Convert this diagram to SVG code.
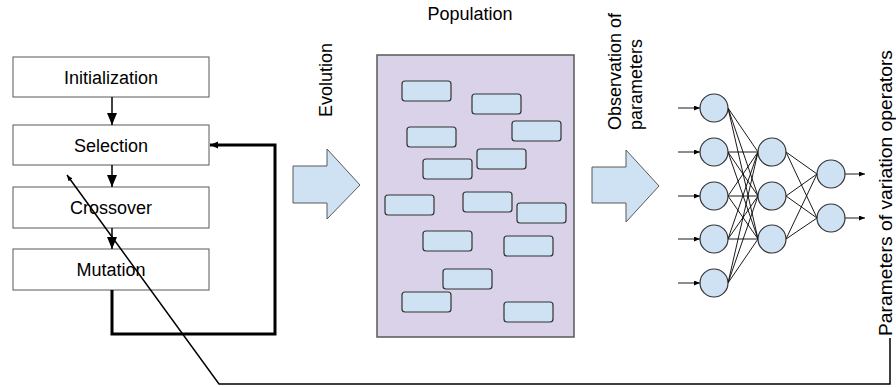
<svg xmlns="http://www.w3.org/2000/svg" width="896" height="387" viewBox="0 0 896 387">
<style>
.box{fill:#fff;stroke:#595959;stroke-width:1}
.lbl{font-family:"Liberation Sans",Arial,sans-serif;font-size:18px;fill:#000}
.ind{fill:#cfe2f3;stroke:#333;stroke-width:1.2}
.neu{fill:#cfe2f3;stroke:#333;stroke-width:1.2}
.blk{fill:#cfe2f3;stroke:#595959;stroke-width:1}
.ln{stroke:#000;stroke-width:1.5;fill:none}
.nn{stroke:#000;stroke-width:0.9;fill:none}
</style>
<defs>
<marker id="ah" markerWidth="13" markerHeight="11" refX="12" refY="5" orient="auto" markerUnits="userSpaceOnUse"><path d="M0,0 L12,5 L0,10 z" fill="#000"/></marker>
<marker id="as" markerWidth="9" markerHeight="8" refX="8" refY="3.5" orient="auto" markerUnits="userSpaceOnUse"><path d="M0,0 L8,3.5 L0,7 z" fill="#000"/></marker>
<marker id="an" markerWidth="7" markerHeight="6" refX="6" refY="2.5" orient="auto" markerUnits="userSpaceOnUse"><path d="M0,0 L6,2.5 L0,5 z" fill="#000"/></marker>
</defs>

<g id="initialization"><rect class="box" x="13" y="57" width="196" height="40"/><text class="lbl" x="111" y="83.5" text-anchor="middle">Initialization</text></g>
<g id="selection"><rect class="box" x="13" y="125" width="196" height="40"/><text class="lbl" x="111" y="151.5" text-anchor="middle">Selection</text></g>
<g id="crossover"><rect class="box" x="13" y="187" width="196" height="41"/><text class="lbl" x="111" y="213.5" text-anchor="middle">Crossover</text></g>
<g id="mutation"><rect class="box" x="13" y="249" width="196" height="41"/><text class="lbl" x="111" y="275.5" text-anchor="middle">Mutation</text></g>

<g id="evolution-arrow"><path class="blk" d="M293,166 L327,166 L327,149 L360,185 L327,219 L327,203 L293,203 z"/><text class="lbl" transform="translate(332,117) rotate(-90)">Evolution</text></g>

<g id="population">
<text class="lbl" x="470" y="20" text-anchor="middle">Population</text>
<rect x="377" y="55" width="197" height="282" fill="#d9d2e9" stroke="#595959" stroke-width="1.5"/>
<rect class="ind" x="402" y="81" width="49" height="20" rx="3"/>
<rect class="ind" x="472" y="94" width="49" height="20" rx="3"/>
<rect class="ind" x="407" y="127" width="49" height="20" rx="3"/>
<rect class="ind" x="512" y="121" width="49" height="20" rx="3"/>
<rect class="ind" x="477" y="149" width="49" height="20" rx="3"/>
<rect class="ind" x="423" y="159" width="49" height="20" rx="3"/>
<rect class="ind" x="385" y="195" width="49" height="20" rx="3"/>
<rect class="ind" x="463" y="192" width="49" height="20" rx="3"/>
<rect class="ind" x="517" y="203" width="49" height="20" rx="3"/>
<rect class="ind" x="423" y="231" width="49" height="20" rx="3"/>
<rect class="ind" x="504" y="236" width="49" height="20" rx="3"/>
<rect class="ind" x="443" y="269" width="49" height="20" rx="3"/>
<rect class="ind" x="402" y="292" width="49" height="20" rx="3"/>
<rect class="ind" x="504" y="302" width="49" height="20" rx="3"/>
</g>

<g id="observation-arrow"><path class="blk" d="M592,167 L626,167 L626,150 L659,186 L626,222 L626,203 L592,203 z"/>
<text class="lbl" transform="translate(621,130) rotate(-90)">Observation of</text>
<text class="lbl" transform="translate(642,130) rotate(-90)">parameters</text></g>

<g id="network">
<g class="nn">
<path d="M728,108 L758,152 M728,108 L758,196 M728,108 L758,239
M728,152 L758,152 M728,152 L758,196 M728,152 L758,239
M728,196 L758,152 M728,196 L758,196 M728,196 L758,239
M728,239 L758,152 M728,239 L758,196 M728,239 L758,239
M728,283 L758,152 M728,283 L758,196 M728,283 L758,239
M786,152 L817,174 M786,152 L817,218 M786,196 L817,174 M786,196 L817,218 M786,239 L817,174 M786,239 L817,218"/>
</g>
<g class="nn" stroke-width="1.2">
<line x1="678" y1="108" x2="700" y2="108" marker-end="url(#an)"/>
<line x1="678" y1="152" x2="700" y2="152" marker-end="url(#an)"/>
<line x1="678" y1="196" x2="700" y2="196" marker-end="url(#an)"/>
<line x1="678" y1="239" x2="700" y2="239" marker-end="url(#an)"/>
<line x1="678" y1="283" x2="700" y2="283" marker-end="url(#an)"/>
<line x1="845" y1="174" x2="865" y2="174" marker-end="url(#an)"/>
<line x1="845" y1="218" x2="865" y2="218" marker-end="url(#an)"/>
</g>
<circle class="neu" cx="714" cy="108" r="14"/>
<circle class="neu" cx="714" cy="152" r="14"/>
<circle class="neu" cx="714" cy="196" r="14"/>
<circle class="neu" cx="714" cy="239" r="14"/>
<circle class="neu" cx="714" cy="283" r="14"/>
<circle class="neu" cx="772" cy="152" r="14"/>
<circle class="neu" cx="772" cy="196" r="14"/>
<circle class="neu" cx="772" cy="239" r="14"/>
<circle class="neu" cx="831" cy="174" r="14"/>
<circle class="neu" cx="831" cy="218" r="14"/>
</g>

<g id="param-label"><text class="lbl" style="font-size:18.5px" textLength="286" lengthAdjust="spacingAndGlyphs" transform="translate(892,336) rotate(-90)">Parameters of variation operators</text></g>

<g id="connectors">
<line class="ln" stroke-width="2" x1="112" y1="97" x2="112" y2="125" marker-end="url(#ah)"/>
<line class="ln" stroke-width="2" x1="112" y1="165" x2="112" y2="187" marker-end="url(#ah)"/>
<line class="ln" stroke-width="2" x1="112" y1="228" x2="112" y2="249" marker-end="url(#ah)"/>
<path d="M112,290 L112,334 L275,334 L275,145 L210,145" fill="none" stroke="#000" stroke-width="3" marker-end="url(#as)"/>
<path class="ln" d="M890,338 L890,384 L219,384 L67,175" marker-end="url(#an)"/>
</g>
</svg>
